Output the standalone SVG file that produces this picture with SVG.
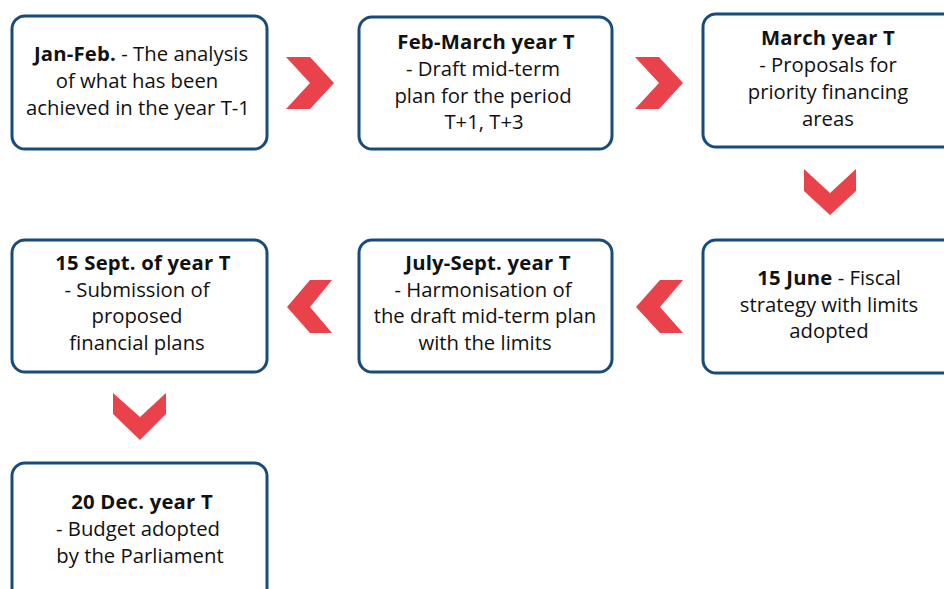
<svg xmlns="http://www.w3.org/2000/svg" width="944" height="589" viewBox="0 0 944 589">
<style>
.box{fill:#fff;stroke:#174b7b;stroke-width:3}
.t{font-family:"Open Sans","Liberation Sans",sans-serif;font-size:20.3px;fill:#111;text-anchor:middle}
.b{font-weight:bold;letter-spacing:0.2px}
.chev{fill:#ea424b}
</style>
<rect width="944" height="589" fill="#fff"/>
<g id="connectors">
<polygon class="chev" points="286,57 310,57 334,83 310,109 286,109 310,83"/>
<polygon class="chev" points="635,57 659,57 683,83 659,109 635,109 659,83"/>
<polygon class="chev" points="804,169 830,193 856,169 856,191 830,215 804,191"/>
<polygon class="chev" points="332,280 310,280 287,307 310,333 332,333 310,307"/>
<polygon class="chev" points="683,280 660,280 636,307 660,333 683,333 660,307"/>
<polygon class="chev" points="113,393 140,417 166,393 166,414 140,440 113,414"/>
</g>
<g id="n1">
<rect class="box" x="12" y="16" width="255" height="133" rx="13"/>
<text class="t" x="141" y="61"><tspan class="b">Jan-Feb.</tspan> - The analysis</text>
<text class="t" x="137" y="88">of what has been</text>
<text class="t" x="138" y="115">achieved in the year T-1</text>
</g>
<g id="n2">
<rect class="box" x="359" y="17" width="253" height="132" rx="13"/>
<text class="t b" x="486" y="49">Feb-March year T</text>
<text class="t" x="483" y="76">- Draft mid-term</text>
<text class="t" x="483" y="103">plan for the period</text>
<text class="t" x="484" y="129">T+1, T+3</text>
</g>
<g id="n3">
<rect class="box" x="703" y="14" width="254" height="133" rx="13"/>
<text class="t b" x="828" y="45">March year T</text>
<text class="t" x="828" y="72">- Proposals for</text>
<text class="t" x="828" y="99">priority financing</text>
<text class="t" x="828" y="126">areas</text>
</g>
<g id="n4">
<rect class="box" x="703" y="240" width="254" height="133" rx="13"/>
<text class="t" x="829" y="285"><tspan class="b">15 June</tspan> - Fiscal</text>
<text class="t" x="829" y="312">strategy with limits</text>
<text class="t" x="829" y="338">adopted</text>
</g>
<g id="n5">
<rect class="box" x="359" y="240" width="253" height="132" rx="13"/>
<text class="t b" x="488" y="270">July-Sept. year T</text>
<text class="t" x="483" y="297">- Harmonisation of</text>
<text class="t" x="485" y="323">the draft mid-term plan</text>
<text class="t" x="485" y="350">with the limits</text>
</g>
<g id="n6">
<rect class="box" x="12" y="240" width="255" height="132" rx="13"/>
<text class="t b" x="143" y="270">15 Sept. of year T</text>
<text class="t" x="137" y="297">- Submission of</text>
<text class="t" x="137" y="323">proposed</text>
<text class="t" x="137" y="350">financial plans</text>
</g>
<g id="n7">
<rect class="box" x="12" y="463" width="255" height="140" rx="13"/>
<text class="t b" x="142" y="509">20 Dec. year T</text>
<text class="t" x="138" y="536">- Budget adopted</text>
<text class="t" x="140" y="563">by the Parliament</text>
</g>
</svg>
